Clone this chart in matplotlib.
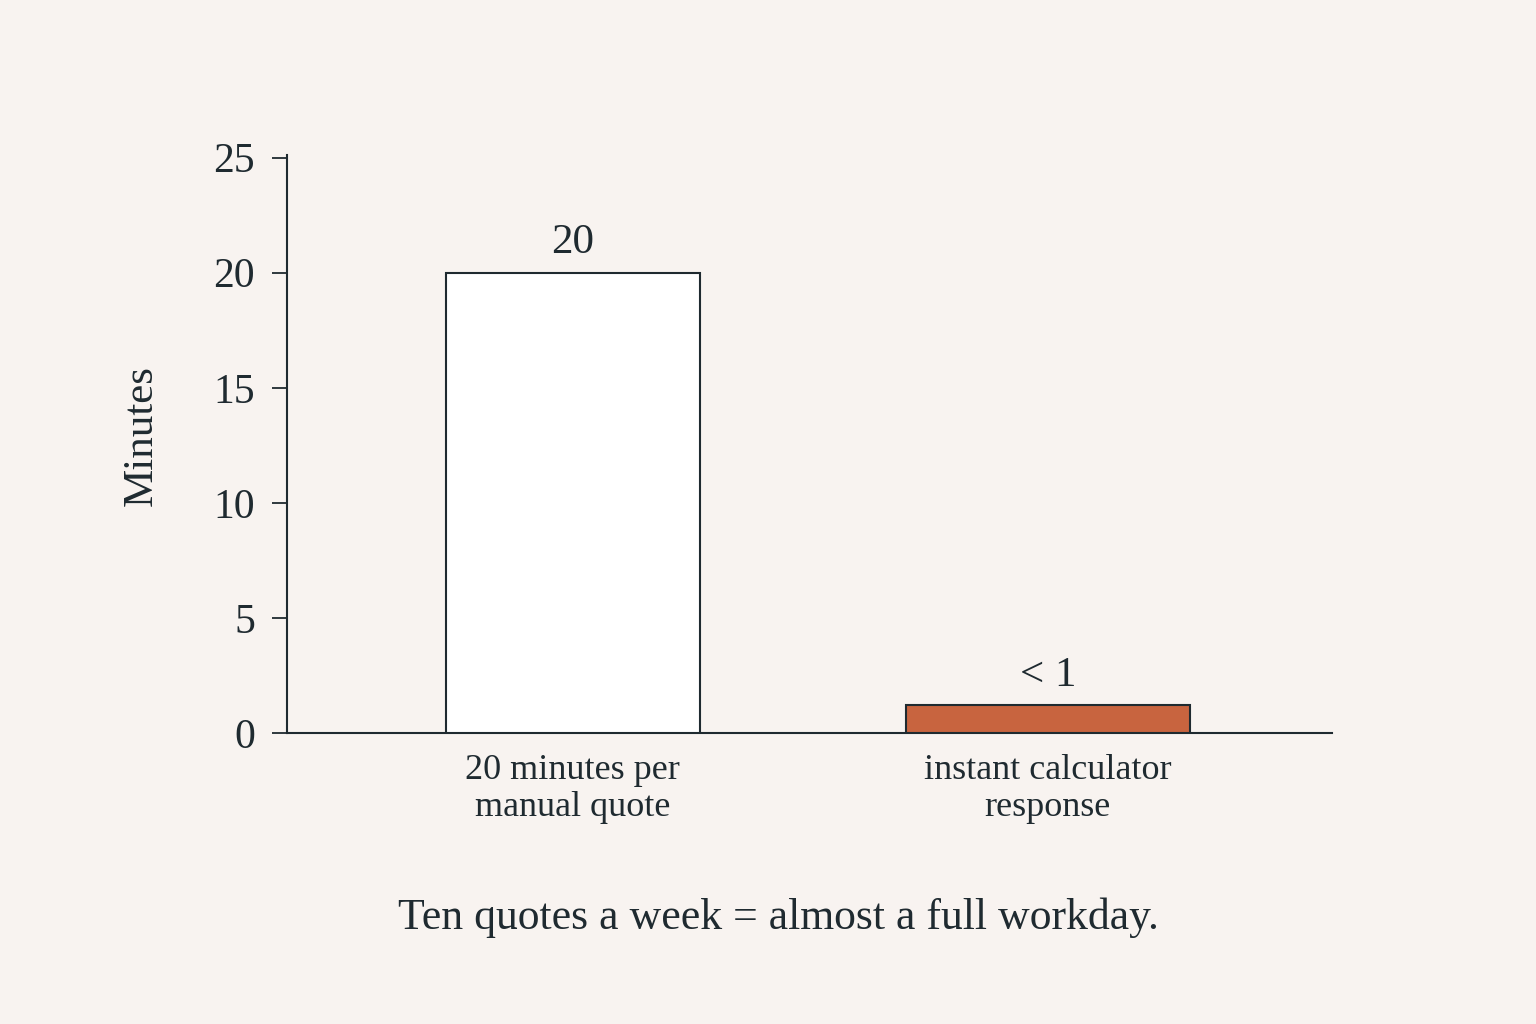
import matplotlib.pyplot as plt

categories = ["20 minutes per\nmanual quote", "instant calculator\nresponse"]
minutes = [20, 1.2]
value_labels = ["20", "< 1"]
yticks = [0, 5, 10, 15, 20, 25]
caption = "Ten quotes a week = almost a full workday."

BG = "#f8f3f0"
INK = "#1f2a30"
ORANGE = "#c8643f"

plt.rcParams["font.family"] = ["Liberation Serif", "DejaVu Serif"]

fig = plt.figure(figsize=(15.36, 10.24), dpi=100, facecolor=BG)
ax = fig.add_axes([0.1868, 0.2842, 0.6803, 0.5645])
ax.set_facecolor(BG)

x = [0, 1]
widths = [0.535, 0.598]
colors = ["white", ORANGE]
ax.bar(x, minutes, width=widths, color=colors, edgecolor=INK, linewidth=1.5, zorder=3)

for xi, v, lab in zip(x, minutes, value_labels):
    ax.text(xi, v + 0.45, lab, ha="center", va="bottom", fontsize=31, color=INK)

ax.set_xlim(-0.602, 1.598)
ax.set_ylim(0, 25.12)
ax.set_yticks(yticks)
ax.set_xticks(x)
ax.set_xticklabels(categories, fontsize=26, color=INK, linespacing=1.15)
ax.tick_params(axis="x", length=0, pad=15)
ax.tick_params(axis="y", length=11, width=1.3, colors=INK, labelsize=30, pad=12)

for s in ["top", "right"]:
    ax.spines[s].set_visible(False)
for s in ["left", "bottom"]:
    ax.spines[s].set_color(INK)
    ax.spines[s].set_linewidth(1.5)

ax.set_ylabel("Minutes", fontsize=31, color=INK)
ax.yaxis.set_label_coords(-0.121, 0.515)

fig.text(0.507, 0.104, caption, ha="center", va="center", fontsize=31.5, color=INK)

fig.savefig("out.png", dpi=100, facecolor=BG)
